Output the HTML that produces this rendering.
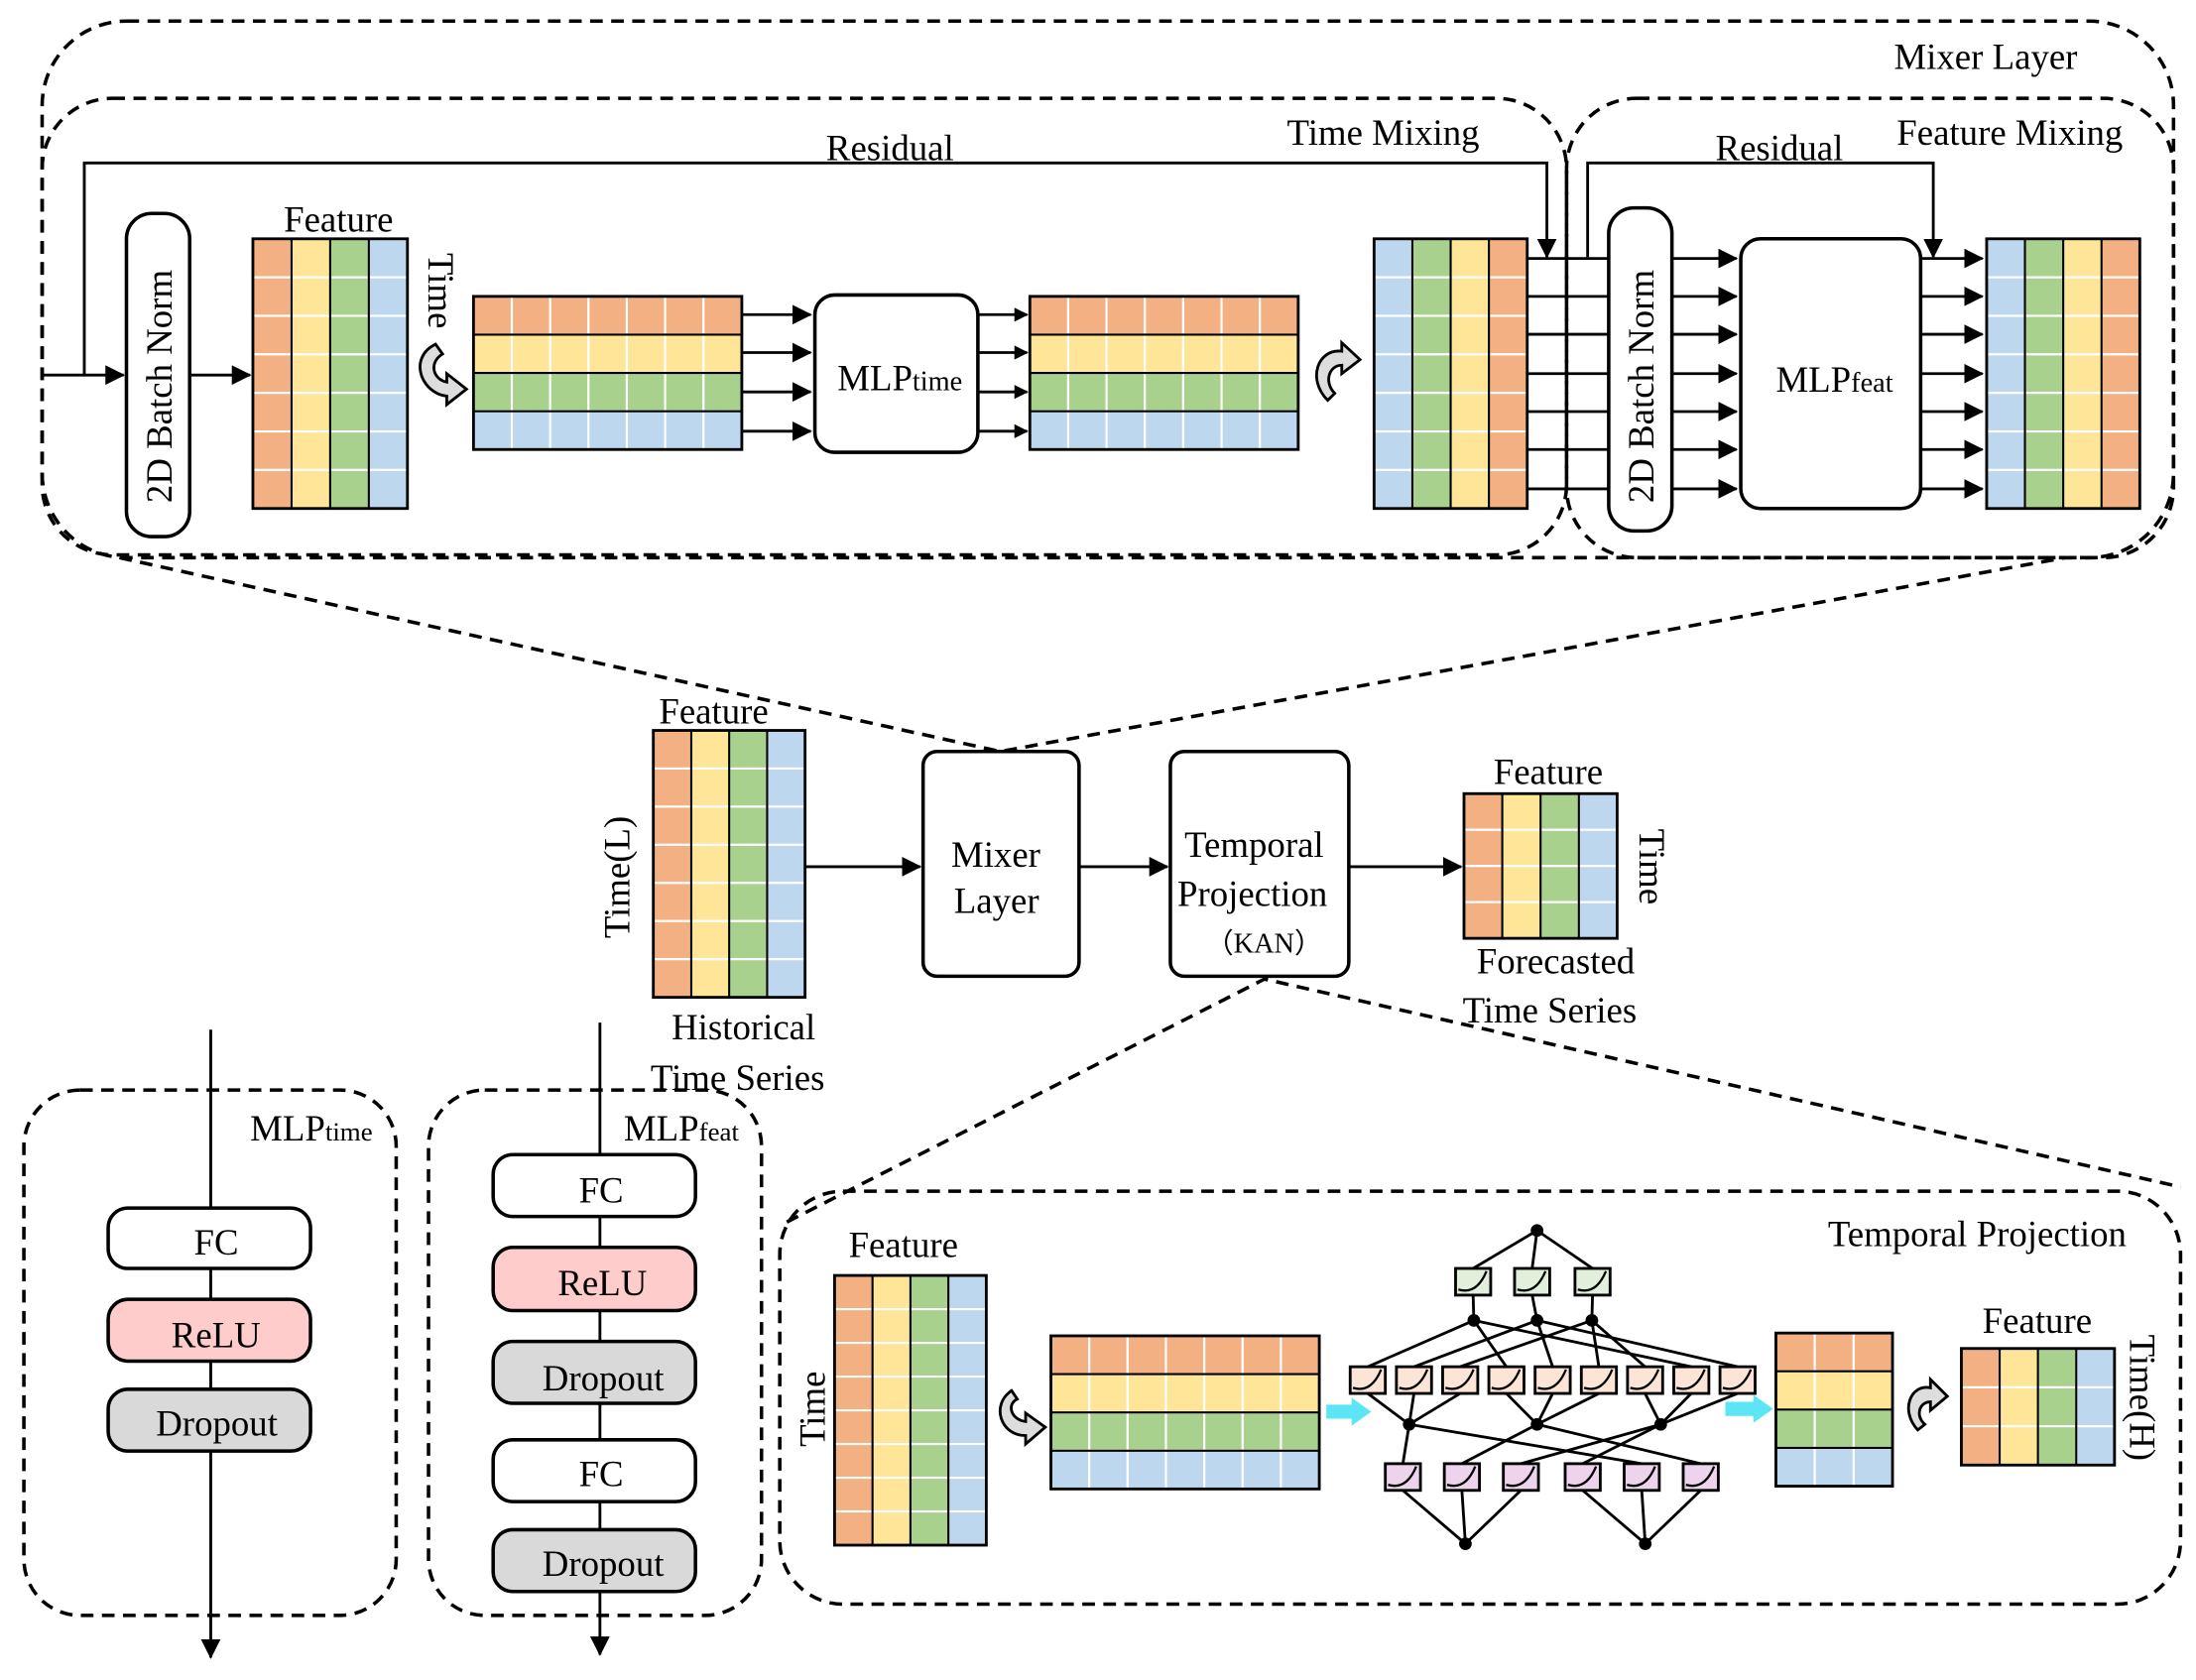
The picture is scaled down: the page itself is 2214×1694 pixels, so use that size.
<!DOCTYPE html>
<html><head><meta charset="utf-8"><style>
html,body{margin:0;padding:0;background:#fff;}
svg{display:block;}
text{font-family:"Liberation Serif",serif;fill:#000;}
</style></head><body>
<svg id="s" width="2214" height="1694" viewBox="0 0 1563 1196" preserveAspectRatio="none" xmlns="http://www.w3.org/2000/svg">
<defs>
<marker id="ar" markerWidth="10" markerHeight="10" refX="9" refY="5" orient="auto" markerUnits="userSpaceOnUse"><path d="M0,0 L10,5 L0,10 Z" fill="#000"/></marker>
<marker id="ar2" markerWidth="14" markerHeight="14" refX="13" refY="7" orient="auto" markerUnits="userSpaceOnUse"><path d="M0,0 L14,7 L0,14 Z" fill="#000"/></marker>
</defs>
<g fill="none" stroke="#000" stroke-width="2.5" stroke-dasharray="9,6">
<rect x="30" y="15" width="1517" height="382" rx="60"/>
<rect x="30" y="70" width="1085" height="325" rx="50"/>
<rect x="1115" y="70" width="432" height="327" rx="50"/>
<rect x="17" y="776" width="265" height="374" rx="40"/>
<rect x="305" y="776" width="237" height="374" rx="40"/>
<rect x="555" y="848" width="997" height="294" rx="45"/>
<path d="M85,397 L712,535 L1470,397"/>
<path d="M560,870 L900,697 L1552,845"/>
</g>
<g id="grids"></g>
<g fill="none" stroke="#000" stroke-width="2">
<path d="M30,267 H88" marker-end="url(#ar2)"/>
<path d="M60,267 V116 H1101 V183" marker-end="url(#ar2)"/>
<path d="M1130,183 V116 H1376 V183" marker-end="url(#ar2)"/>
<path d="M135,267 H178" marker-end="url(#ar2)"/>
<path d="M528,224 H577" marker-end="url(#ar2)"/>
<path d="M528,251 H577" marker-end="url(#ar2)"/>
<path d="M528,279 H577" marker-end="url(#ar2)"/>
<path d="M528,307 H577" marker-end="url(#ar2)"/>
<path d="M696,224 H731" marker-end="url(#ar)"/>
<path d="M696,251 H731" marker-end="url(#ar)"/>
<path d="M696,279 H731" marker-end="url(#ar)"/>
<path d="M696,307 H731" marker-end="url(#ar)"/>
<path d="M573,617 H655" marker-end="url(#ar2)"/>
<path d="M768,617 H831" marker-end="url(#ar2)"/>
<path d="M960,617 H1040" marker-end="url(#ar2)"/>
<path d="M150,733 V1180" marker-end="url(#ar2)"/>
<path d="M427,728 V1178" marker-end="url(#ar2)"/>
</g>
<g id="lines" fill="none" stroke="#000" stroke-width="2"></g>
<g fill="#fff" stroke="#000" stroke-width="2.5">
<rect x="90" y="152" width="45" height="230" rx="18"/>
<rect x="1145" y="148" width="45" height="230" rx="18"/>
<rect x="580" y="210" width="116" height="112" rx="14"/>
<rect x="1239" y="170" width="128" height="192" rx="14"/>
<rect x="657" y="535" width="111" height="160" rx="10"/>
<rect x="833" y="535" width="127" height="160" rx="10"/>
<rect x="77" y="860" width="144" height="43" rx="14"/>
<rect x="77" y="925" width="144" height="44" rx="14" fill="#FFCCCC"/>
<rect x="77" y="989" width="144" height="44" rx="14" fill="#D9D9D9"/>
<rect x="351" y="822" width="144" height="44" rx="14"/>
<rect x="351" y="888" width="144" height="45" rx="14" fill="#FFCCCC"/>
<rect x="351" y="955" width="144" height="44" rx="14" fill="#D9D9D9"/>
<rect x="351" y="1025" width="144" height="44" rx="14"/>
<rect x="351" y="1089" width="144" height="44" rx="14" fill="#D9D9D9"/>
</g>
<g id="kan"></g>
<g fill="#5CE6F5">
<path d="M944,1000 H962 V995 L976,1005 L962,1015 V1010 H944 Z"/>
<path d="M1228,998 H1248 V993 L1262,1003 L1248,1013 V1008 H1228 Z"/>
</g>
<g fill="#ddd" stroke="#000" stroke-width="2">
<path d="M310,245 C290,255 300,280 318,282 L318,288 L332,277 L318,266 L318,272 C308,270 305,258 315,252 Z"/>
<path d="M945,285 C930,270 938,248 955,250 L955,244 L968,256 L955,266 L955,260 C946,260 942,272 950,280 Z"/>
<path d="M720,990 C705,1000 712,1022 730,1022 L730,1028 L744,1016 L730,1006 L730,1012 C720,1011 716,1000 724,996 Z"/>
<path d="M1365,1018 C1352,1004 1360,985 1374,988 L1374,982 L1386,994 L1374,1004 L1374,998 C1366,998 1363,1008 1370,1014 Z"/>
</g>
<g font-size="26">
<text x="1348" y="49">Mixer Layer</text>
<text x="916" y="103">Time Mixing</text>
<text x="1350" y="103">Feature Mixing</text>
<text x="588" y="114">Residual</text>
<text x="1221" y="114">Residual</text>
<text x="202" y="165">Feature</text>
<text transform="translate(305,180) rotate(90)">Time</text>
<text x="596" y="278">MLP<tspan font-size="20">time</tspan></text>
<text x="1264" y="279">MLP<tspan font-size="20">feat</tspan></text>
<text transform="translate(122,358) rotate(-90)">2D Batch Norm</text>
<text transform="translate(1177,358) rotate(-90)">2D Batch Norm</text>
<text x="469" y="515">Feature</text>
<text transform="translate(448,668) rotate(-90)">Time(L)</text>
<text x="478" y="740">Historical</text>
<text x="463" y="776">Time Series</text>
<text x="677" y="617">Mixer</text>
<text x="679" y="650">Layer</text>
<text x="843" y="610">Temporal</text>
<text x="838" y="645">Projection</text>
<text x="858" y="678" font-size="20">（KAN）</text>
<text x="1063" y="558">Feature</text>
<text transform="translate(1167,590) rotate(90)">Time</text>
<text x="1051" y="693">Forecasted</text>
<text x="1041" y="728">Time Series</text>
<text x="178" y="812">MLP<tspan font-size="19">time</tspan></text>
<text x="444" y="812">MLP<tspan font-size="19">feat</tspan></text>
<text x="138" y="893">FC</text>
<text x="122" y="959">ReLU</text>
<text x="111" y="1022">Dropout</text>
<text x="412" y="856">FC</text>
<text x="397" y="922">ReLU</text>
<text x="386" y="990">Dropout</text>
<text x="412" y="1058">FC</text>
<text x="386" y="1122">Dropout</text>
<text x="1301" y="887">Temporal Projection</text>
<text x="604" y="895">Feature</text>
<text transform="translate(587,1030) rotate(-90)">Time</text>
<text x="1411" y="949">Feature</text>
<text transform="translate(1516,950) rotate(90)">Time(H)</text>
</g>
</svg>
<script>
var NS="http://www.w3.org/2000/svg";
var O="#F3B183",Y="#FFE597",G="#A9D18E",B="#BDD7EE";
var g=document.getElementById("grids");
function el(p,t,a){var e=document.createElementNS(NS,t);for(var k in a)e.setAttribute(k,a[k]);p.appendChild(e);return e;}
function grid(x,y,w,h,cols,rows,colors,vert){
 var cw=w/cols,rh=h/rows;
 for(var i=0;i<cols;i++)for(var j=0;j<rows;j++){
  var c=vert?colors[i]:colors[j];
  el(g,"rect",{x:x+i*cw,y:y+j*rh,width:cw,height:rh,fill:c,stroke:"#fff","stroke-width":1.5});
 }
 if(vert){for(var i=1;i<cols;i++)el(g,"line",{x1:x+i*cw,y1:y,x2:x+i*cw,y2:y+h,stroke:"#000","stroke-width":1.5});}
 else{for(var j=1;j<rows;j++)el(g,"line",{x1:x,y1:y+j*rh,x2:x+w,y2:y+j*rh,stroke:"#000","stroke-width":1.5});}
 el(g,"rect",{x:x,y:y,width:w,height:h,fill:"none",stroke:"#000","stroke-width":2});
}
grid(180,170,110,192,4,7,[O,Y,G,B],true);
grid(337,211,191,109,7,4,[O,Y,G,B],false);
grid(733,211,191,109,7,4,[O,Y,G,B],false);
grid(978,170,109,192,4,7,[B,G,Y,O],true);
grid(1414,170,109,192,4,7,[B,G,Y,O],true);
grid(465,520,108,190,4,7,[O,Y,G,B],true);
grid(1042,565,109,103,4,4,[O,Y,G,B],true);
grid(594,908,108,192,4,8,[O,Y,G,B],true);
grid(748,951,191,109,7,4,[O,Y,G,B],false);
grid(1264,949,83,109,3,4,[O,Y,G,B],false);
grid(1396,960,109,83,4,3,[O,Y,G,B],true);
var L=document.getElementById("lines");
var ys=[184,211,238,266,293,320,348];
ys.forEach(function(y){
 el(L,"line",{x1:1087,y1:y,x2:1145,y2:y});
 var a=el(L,"line",{x1:1190,y1:y,x2:1236,y2:y});a.setAttribute("marker-end","url(#ar2)");
 var b=el(L,"line",{x1:1367,y1:y,x2:1411,y2:y});b.setAttribute("marker-end","url(#ar2)");
});
var K=document.getElementById("kan");
var tp=[1094,876];
var gx=[1036,1078,1121],gy=903,bw=25,bh=19;
var h1=[[1049,940],[1094,940],[1133,940]];
var px=[],py=973;for(var i=0;i<9;i++)px.push(961+i*32.9);
var h2=[[1003,1014],[1094,1014],[1182,1014]];
var kx=[986,1028,1070,1114,1156,1198],ky=1042;
var bot=[[1043,1099],[1171,1099]];
function ln(a,b,c,d){el(K,"line",{x1:a,y1:b,x2:c,y2:d,stroke:"#000","stroke-width":2});}
gx.forEach(function(x,i){ln(tp[0],tp[1],x+bw/2,gy);ln(x+bw/2,gy+bh,h1[i][0],h1[i][1]);});
var m1=[[0,3,7],[1,4,8],[2,5,6]];
m1.forEach(function(a,i){a.forEach(function(k){ln(h1[i][0],h1[i][1],px[k]+bw/2,py);});});
for(var k=0;k<9;k++){var n=h2[Math.floor(k/3)];ln(px[k]+bw/2,py+bh,n[0],n[1]);}
var m2=[[0,4],[1,5],[2,3]];
m2.forEach(function(a,i){a.forEach(function(k){ln(h2[i][0],h2[i][1],kx[k]+bw/2,ky);});});
kx.forEach(function(x,k){var n=bot[Math.floor(k/3)];ln(x+bw/2,ky+bh,n[0],n[1]);});
function box(x,y,c){el(K,"rect",{x:x,y:y,width:bw,height:bh,fill:c,stroke:"#000","stroke-width":2});
 el(K,"path",{d:"M"+(x+2)+","+(y+bh-4)+" Q"+(x+bw*0.6)+","+(y+bh)+" "+(x+bw-3)+","+(y+2),fill:"none",stroke:"#000","stroke-width":1.6});}
gx.forEach(function(x){box(x,gy,"#E2EFDA");});
px.forEach(function(x){box(x,py,"#FCE4D6");});
kx.forEach(function(x){box(x,ky,"#EED3EC");});
[tp].concat(h1,h2,bot).forEach(function(p){el(K,"circle",{cx:p[0],cy:p[1],r:4.5,fill:"#000"});});
</script>
</body></html>
